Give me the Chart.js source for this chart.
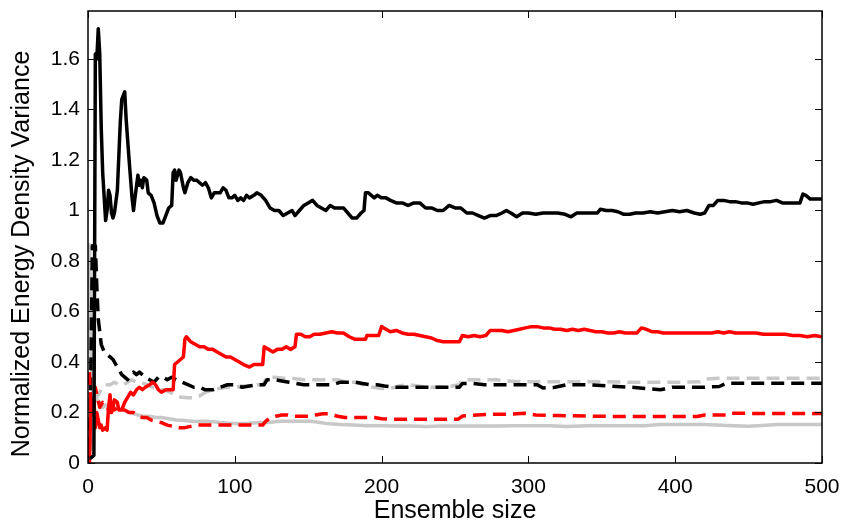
<!DOCTYPE html>
<html>
<head>
<meta charset="utf-8">
<script src="https://cdn.jsdelivr.net/npm/chart.js@4/dist/chart.umd.min.js"></script>
<style>
  html, body { margin: 0; padding: 0; background: #fff; }
  canvas { display: block; }
</style>
</head>
<body>
<canvas id="chart" width="845" height="524"></canvas>
<script>
// Axis ticks
const xTicks = [0, 100, 200, 300, 400, 500];
const yTicks = [0, 0.2, 0.4, 0.6, 0.8, 1, 1.2, 1.4, 1.6];
const yTitle = 'Normalized Energy Density Variance';

// Black solid
const blackSolidX = [1, 2, 4, 5, 6, 7, 8, 9, 10, 12, 13, 14, 15, 16, 17, 18, 20, 22, 23, 25, 26, 28, 30, 31, 32, 34, 35, 36, 37, 38, 40, 41, 43, 45, 47, 49, 51, 53, 55, 57, 58, 59, 60, 62, 63, 65, 66, 68, 70, 72, 74, 76, 78, 80, 82, 84, 86, 88, 90, 92, 94, 96, 98, 100, 102, 104, 106, 108, 110, 113, 115, 118, 121, 124, 127, 130, 133, 136, 139, 141, 144, 147, 150, 153, 156, 159, 162, 165, 168, 171, 174, 177, 180, 183, 186, 188, 189, 191, 193, 195, 197, 200, 203, 206, 210, 214, 218, 222, 226, 230, 234, 238, 242, 246, 250, 254, 258, 262, 266, 270, 274, 278, 282, 285, 288, 292, 296, 300, 305, 310, 315, 320, 325, 329, 333, 338, 343, 347, 349, 353, 357, 361, 365, 369, 373, 378, 383, 388, 393, 398, 403, 408, 413, 417, 420, 423, 426, 429, 433, 437, 441, 445, 449, 453, 457, 461, 465, 469, 473, 477, 481, 485, 487, 489, 492, 496, 500];
const blackSolidY = [0.02, 0.02, 0.03, 1.62, 1.6, 1.72, 1.62, 1.33, 1.15, 0.96, 1.0, 1.08, 1.06, 0.99, 0.97, 0.99, 1.08, 1.35, 1.44, 1.47, 1.36, 1.2, 1.05, 1.0, 1.05, 1.14, 1.1, 1.12, 1.09, 1.13, 1.12, 1.07, 1.06, 1.03, 0.98, 0.95, 0.95, 0.98, 1.01, 1.02, 1.15, 1.16, 1.12, 1.16, 1.15, 1.09, 1.07, 1.11, 1.13, 1.12, 1.12, 1.11, 1.1, 1.11, 1.09, 1.05, 1.07, 1.07, 1.07, 1.09, 1.08, 1.05, 1.05, 1.06, 1.04, 1.05, 1.04, 1.06, 1.05, 1.06, 1.07, 1.06, 1.04, 1.01, 1.0, 1.0, 0.98, 0.99, 1.0, 0.98, 1.0, 1.02, 1.03, 1.04, 1.02, 1.01, 1.0, 1.02, 1.01, 1.01, 1.01, 0.99, 0.97, 0.97, 0.99, 1.0, 1.07, 1.07, 1.06, 1.05, 1.06, 1.05, 1.05, 1.04, 1.03, 1.03, 1.02, 1.03, 1.03, 1.01, 1.01, 1.0, 1.0, 1.02, 1.01, 1.01, 0.99, 0.99, 0.98, 0.97, 0.98, 0.98, 0.99, 1.0, 0.99, 0.975, 0.99, 0.99, 0.985, 0.99, 0.99, 0.99, 0.985, 0.975, 0.99, 0.99, 0.99, 0.99, 1.005, 1.0, 1.0, 0.995, 0.985, 0.985, 0.99, 0.99, 0.995, 0.99, 0.995, 1.0, 0.995, 1.0, 0.99, 0.985, 0.99, 1.02, 1.02, 1.04, 1.04, 1.035, 1.035, 1.03, 1.03, 1.025, 1.03, 1.035, 1.035, 1.04, 1.03, 1.03, 1.03, 1.03, 1.065, 1.06, 1.045, 1.045, 1.045];

// Red solid
const redSolidX = [1, 2, 3, 4, 5, 6, 7, 8, 9, 10, 12, 13, 14, 15, 16, 17, 18, 20, 21, 23, 25, 27, 29, 31, 33, 35, 37, 39, 42, 44, 46, 48, 50, 53, 56, 58, 59, 61, 63, 65, 66, 67, 70, 73, 76, 79, 82, 85, 88, 91, 94, 97, 100, 103, 106, 110, 113, 116, 119, 120, 123, 126, 129, 132, 135, 138, 141, 142, 145, 148, 151, 154, 158, 162, 166, 170, 174, 178, 182, 186, 189, 190, 194, 198, 200, 203, 206, 210, 214, 218, 222, 226, 230, 234, 238, 242, 246, 250, 253, 255, 259, 263, 267, 271, 274, 278, 282, 286, 290, 294, 298, 302, 306, 310, 314, 318, 322, 326, 330, 334, 338, 342, 346, 350, 354, 358, 362, 366, 370, 374, 377, 380, 384, 388, 392, 396, 400, 405, 410, 415, 420, 425, 429, 433, 437, 441, 445, 450, 455, 460, 465, 470, 475, 480, 485, 490, 495, 500];
const redSolidY = [0.0, 0.26, 0.19, 0.25, 0.14, 0.2, 0.17, 0.14, 0.15, 0.13, 0.14, 0.13, 0.22, 0.27, 0.2, 0.22, 0.25, 0.24, 0.21, 0.21, 0.24, 0.26, 0.28, 0.27, 0.29, 0.3, 0.29, 0.3, 0.31, 0.32, 0.31, 0.29, 0.28, 0.29, 0.29, 0.29, 0.39, 0.4, 0.41, 0.42, 0.49, 0.5, 0.48, 0.47, 0.46, 0.46, 0.45, 0.45, 0.44, 0.43, 0.42, 0.42, 0.41, 0.4, 0.39, 0.38, 0.39, 0.39, 0.39, 0.46, 0.45, 0.44, 0.45, 0.45, 0.46, 0.45, 0.46, 0.51, 0.51, 0.5, 0.5, 0.51, 0.51, 0.515, 0.52, 0.515, 0.515, 0.5, 0.49, 0.49, 0.49, 0.505, 0.505, 0.505, 0.54, 0.53, 0.52, 0.525, 0.515, 0.51, 0.51, 0.505, 0.5, 0.495, 0.485, 0.48, 0.48, 0.48, 0.48, 0.505, 0.5, 0.505, 0.5, 0.505, 0.525, 0.525, 0.525, 0.52, 0.525, 0.53, 0.535, 0.54, 0.54, 0.535, 0.535, 0.53, 0.53, 0.525, 0.53, 0.525, 0.53, 0.525, 0.52, 0.52, 0.515, 0.515, 0.52, 0.515, 0.515, 0.515, 0.535, 0.53, 0.52, 0.52, 0.515, 0.515, 0.515, 0.515, 0.515, 0.515, 0.515, 0.515, 0.52, 0.515, 0.52, 0.515, 0.515, 0.515, 0.515, 0.51, 0.51, 0.51, 0.51, 0.505, 0.505, 0.5, 0.505, 0.5];

// Black dashed
const blackDashX = [1, 2, 3, 5, 6, 7, 8, 9, 11, 13, 15, 17, 19, 21, 23, 25, 27, 29, 31, 33, 35, 37, 39, 42, 45, 48, 51, 54, 57, 60, 64, 68, 72, 76, 80, 85, 90, 95, 100, 105, 110, 115, 120, 122, 127, 132, 137, 142, 147, 152, 157, 162, 167, 172, 177, 182, 187, 192, 197, 202, 210, 220, 230, 240, 248, 253, 255, 262, 270, 280, 290, 300, 306, 310, 318, 326, 340, 355, 370, 380, 390, 398, 410, 420, 430, 435, 450, 470, 500];
const blackDashY = [0.05, 0.4, 0.86, 0.86, 0.7, 0.57, 0.52, 0.47, 0.44, 0.43, 0.42, 0.41, 0.39, 0.37, 0.35, 0.34, 0.33, 0.35, 0.36, 0.35, 0.36, 0.35, 0.34, 0.33, 0.32, 0.34, 0.34, 0.33, 0.34, 0.33, 0.32, 0.31, 0.3, 0.3, 0.29, 0.29, 0.3, 0.31, 0.31, 0.3, 0.305, 0.31, 0.31, 0.33, 0.33, 0.325, 0.32, 0.315, 0.31, 0.31, 0.31, 0.31, 0.31, 0.32, 0.32, 0.32, 0.315, 0.31, 0.31, 0.305, 0.3, 0.3, 0.3, 0.3, 0.3, 0.3, 0.315, 0.315, 0.31, 0.31, 0.31, 0.31, 0.31, 0.297, 0.3, 0.31, 0.31, 0.305, 0.3, 0.295, 0.29, 0.3, 0.3, 0.3, 0.303, 0.316, 0.316, 0.316, 0.316];

// Grey dashed
const greyDashX = [1, 2, 3, 4, 5, 6, 8, 10, 12, 15, 18, 21, 24, 27, 30, 33, 36, 40, 44, 48, 52, 56, 60, 64, 68, 72, 76, 80, 85, 90, 95, 100, 105, 110, 115, 119, 122, 127, 133, 140, 147, 155, 163, 170, 176, 182, 188, 194, 200, 206, 212, 218, 225, 232, 240, 248, 253, 255, 262, 270, 278, 285, 295, 310, 330, 350, 370, 390, 405, 417, 420, 430, 450, 475, 500];
const greyDashY = [0.75, 0.55, 0.4, 0.3, 0.27, 0.26, 0.28, 0.3, 0.31, 0.31, 0.32, 0.31, 0.31, 0.32, 0.33, 0.32, 0.32, 0.31, 0.3, 0.29, 0.29, 0.28, 0.265, 0.26, 0.258, 0.258, 0.265, 0.28, 0.29, 0.296, 0.3, 0.3, 0.305, 0.305, 0.31, 0.31, 0.34, 0.34, 0.336, 0.335, 0.33, 0.33, 0.33, 0.33, 0.32, 0.32, 0.31, 0.3, 0.295, 0.295, 0.305, 0.31, 0.305, 0.3, 0.3, 0.305, 0.31, 0.33, 0.33, 0.33, 0.33, 0.325, 0.322, 0.322, 0.322, 0.322, 0.32, 0.32, 0.32, 0.322, 0.332, 0.336, 0.336, 0.336, 0.336];

// Red dashed
const redDashX = [1, 2, 3, 4, 5, 6, 8, 10, 12, 14, 16, 18, 20, 22, 25, 28, 31, 34, 37, 40, 43, 46, 50, 54, 58, 62, 66, 70, 75, 80, 85, 90, 100, 110, 119, 121, 124, 128, 132, 136, 140, 145, 150, 155, 160, 165, 170, 175, 185, 195, 200, 210, 225, 240, 252, 255, 265, 275, 285, 297, 305, 320, 340, 360, 380, 400, 415, 420, 436, 438, 460, 480, 500];
const redDashY = [0.36, 0.2, 0.26, 0.22, 0.3, 0.27, 0.22, 0.24, 0.23, 0.21, 0.22, 0.21, 0.22, 0.21, 0.21, 0.2, 0.2, 0.19, 0.18, 0.18, 0.17, 0.165, 0.16, 0.15, 0.145, 0.14, 0.14, 0.145, 0.15, 0.15, 0.15, 0.15, 0.15, 0.15, 0.15, 0.165, 0.178, 0.185, 0.19, 0.19, 0.185, 0.185, 0.185, 0.19, 0.195, 0.195, 0.185, 0.18, 0.18, 0.18, 0.175, 0.173, 0.173, 0.173, 0.173, 0.186, 0.19, 0.193, 0.193, 0.197, 0.19, 0.188, 0.186, 0.184, 0.184, 0.184, 0.184, 0.19, 0.19, 0.197, 0.196, 0.196, 0.196];

// Grey solid
const greySolidX = [1, 2, 3, 4, 6, 8, 10, 12, 14, 17, 20, 24, 28, 31, 34, 38, 42, 46, 50, 55, 60, 66, 72, 78, 84, 90, 96, 102, 110, 117, 123, 130, 137, 145, 152, 158, 164, 172, 181, 190, 200, 210, 220, 230, 240, 250, 260, 270, 280, 290, 300, 315, 326, 340, 360, 380, 389, 400, 420, 440, 450, 456, 470, 485, 500];
const greySolidY = [0.87, 0.45, 0.3, 0.26, 0.25, 0.24, 0.22, 0.23, 0.22, 0.22, 0.22, 0.21, 0.2, 0.197, 0.19, 0.184, 0.185, 0.18, 0.18, 0.175, 0.17, 0.168, 0.164, 0.165, 0.164, 0.16, 0.157, 0.155, 0.157, 0.16, 0.16, 0.165, 0.165, 0.165, 0.165, 0.16, 0.155, 0.152, 0.15, 0.148, 0.148, 0.147, 0.147, 0.145, 0.147, 0.147, 0.147, 0.147, 0.147, 0.148, 0.148, 0.148, 0.145, 0.148, 0.148, 0.148, 0.152, 0.152, 0.152, 0.148, 0.146, 0.148, 0.152, 0.152, 0.152];

function toPoints(xs, ys) {
  return xs.map((x, i) => ({ x: x, y: ys[i] }));
}

function series(xs, ys, color, dash) {
  return {
    data: toPoints(xs, ys),
    borderColor: color,
    borderWidth: 3.5,
    borderDash: dash ? [13, 7] : [],
    borderJoinStyle: 'round',
    pointRadius: 0,
    fill: false,
    tension: 0
  };
}

const tickFont = { family: '"Liberation Sans", Arial, sans-serif', size: 21 };
const titleFont = { family: '"Liberation Sans", Arial, sans-serif', size: 25 };

// Box round the plot, inward ticks on all four sides (MATLAB style), and the y label
const boxTicks = {
  id: 'boxTicks',
  afterDraw(chart) {
    const { ctx, chartArea: a, scales } = chart;
    const len = 7;
    ctx.save();
    ctx.strokeStyle = '#000';
    ctx.lineWidth = 1;
    ctx.beginPath();
    xTicks.forEach(v => {
      const px = Math.round(scales.x.getPixelForValue(v)) + 0.5;
      ctx.moveTo(px, a.bottom); ctx.lineTo(px, a.bottom - len);
      ctx.moveTo(px, a.top); ctx.lineTo(px, a.top + len);
    });
    yTicks.forEach(v => {
      const py = Math.round(scales.y.getPixelForValue(v)) + 0.5;
      ctx.moveTo(a.left, py); ctx.lineTo(a.left + len, py);
      ctx.moveTo(a.right, py); ctx.lineTo(a.right - len, py);
    });
    ctx.stroke();
    ctx.lineWidth = 1.5;
    ctx.strokeRect(a.left, a.top, a.right - a.left, a.bottom - a.top);

    // y label sits a little below the middle of the axis in the original
    ctx.translate(22, 254);
    ctx.rotate(-Math.PI / 2);
    ctx.fillStyle = '#000';
    ctx.font = titleFont.size + 'px ' + titleFont.family;
    ctx.textAlign = 'center';
    ctx.textBaseline = 'middle';
    ctx.fillText(yTitle, 0, 0);
    ctx.restore();
  }
};

new Chart(document.getElementById('chart'), {
  type: 'line',
  data: {
    datasets: [
      series(blackSolidX, blackSolidY, '#000000', false),
      series(redSolidX, redSolidY, '#ff0000', false),
      series(redDashX, redDashY, '#ff0000', true),
      series(blackDashX, blackDashY, '#000000', true),
      series(greyDashX, greyDashY, '#c8c8c8', true),
      series(greySolidX, greySolidY, '#c8c8c8', false)
    ]
  },
  options: {
    responsive: false,
    animation: false,
    layout: { padding: { top: 11, right: 23, left: 0, bottom: 0 } },
    plugins: {
      legend: { display: false },
      tooltip: { enabled: false }
    },
    scales: {
      x: {
        type: 'linear',
        min: 0,
        max: 500,
        grid: { display: false, drawTicks: false },
        border: { display: false },
        afterFit(scale) {
          scale.height = 61;
          scale.paddingLeft = 0;
          scale.paddingRight = 0;
        },
        afterBuildTicks(scale) { scale.ticks = xTicks.map(v => ({ value: v })); },
        ticks: { color: '#000', font: tickFont, padding: 12, maxRotation: 0 },
        title: { display: true, text: 'Ensemble size', color: '#000', font: titleFont, padding: { top: 0, bottom: -2 } }
      },
      y: {
        type: 'linear',
        min: 0,
        max: 1.79,
        grid: { display: false, drawTicks: false },
        border: { display: false },
        afterFit(scale) {
          scale.width = 88;
          scale.paddingTop = 0;
          scale.paddingBottom = 0;
        },
        afterBuildTicks(scale) { scale.ticks = yTicks.map(v => ({ value: v })); },
        ticks: {
          color: '#000',
          font: tickFont,
          padding: 8,
          callback: v => String(+v.toFixed(1))
        }
      }
    }
  },
  plugins: [boxTicks]
});
</script>
</body>
</html>
